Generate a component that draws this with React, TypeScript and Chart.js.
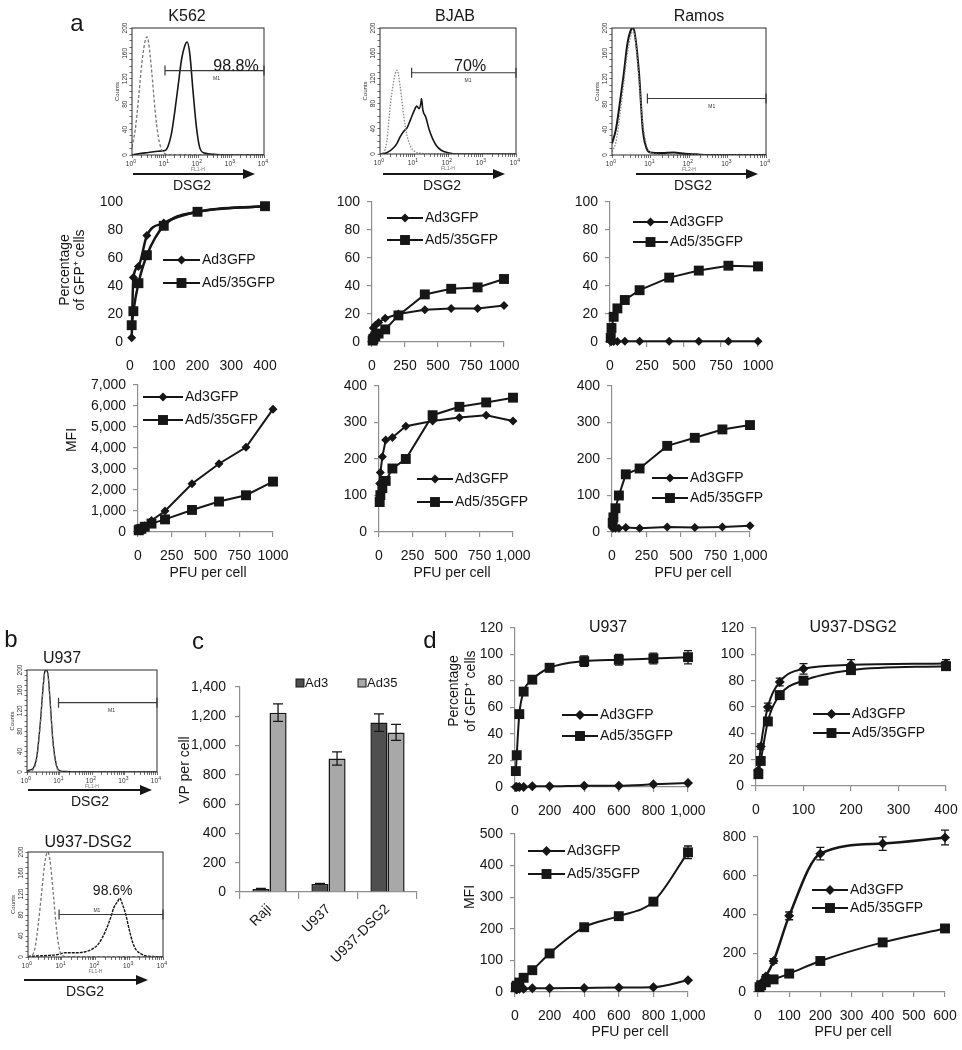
import React, { useEffect, useRef } from "react";
import { Chart, registerables } from "chart.js";

Chart.register(...registerables);

const W = 962;
const H = 1050;
const FONT = '"Liberation Sans", Arial, Helvetica, sans-serif';
const INK = "#161616";
const AXIS = "#8f8f8f";

Chart.defaults.font.family = FONT;
Chart.defaults.font.size = 14;
Chart.defaults.color = INK;

// ---------------- data ----------------
// Flow cytometry histograms: x = log10 fluorescence (decades), y = counts
const k562CtrlX = [0, 0.1, 0.2, 0.3, 0.4, 0.45, 0.5, 0.6, 0.7, 0.8, 0.9, 1.0, 1.2, 2, 3, 4];
const k562CtrlY = [12, 40, 90, 145, 180, 186, 178, 130, 70, 28, 8, 2, 0, 0, 0, 0];
const k562DsgX = [0, 0.2, 0.5, 0.8, 1.0, 1.1, 1.2, 1.3, 1.4, 1.5, 1.6, 1.67, 1.75, 1.85, 1.95, 2.05, 2.2, 2.5, 3, 4];
const k562DsgY = [0, 2, 4, 6, 7, 15, 35, 70, 110, 150, 172, 178, 160, 100, 45, 12, 3, 1, 0, 0];

const bjabCtrlX = [0, 0.1, 0.2, 0.3, 0.4, 0.5, 0.6, 0.7, 0.8, 0.9, 1.0, 1.2, 1.5, 4];
const bjabCtrlY = [0, 2, 20, 75, 115, 133, 105, 60, 28, 12, 5, 1, 0, 0];
const bjabDsgX = [0, 0.2, 0.4, 0.5, 0.6, 0.7, 0.8, 0.9, 1.0, 1.08, 1.15, 1.2, 1.22, 1.26, 1.35, 1.45, 1.55, 1.65, 1.8, 2.0, 2.3, 4];
const bjabDsgY = [0, 2, 10, 17, 28, 36, 42, 55, 68, 76, 72, 80, 88, 70, 58, 38, 24, 14, 6, 2, 0, 0];

const ramosCtrlX = [0, 0.1, 0.2, 0.3, 0.4, 0.5, 0.55, 0.6, 0.7, 0.8, 0.9, 1.0, 1.2, 1.5, 4];
const ramosCtrlY = [5, 20, 60, 110, 160, 190, 195, 185, 120, 50, 15, 4, 1, 0, 0];
const ramosDsgX = [0, 0.1, 0.2, 0.3, 0.4, 0.5, 0.55, 0.6, 0.7, 0.8, 0.9, 1.0, 1.3, 1.6, 1.9, 2.2, 2.5, 4];
const ramosDsgY = [18, 40, 80, 125, 175, 198, 200, 188, 130, 40, 10, 4, 3, 4, 2, 1, 0, 0];

const u937CtrlX = [0, 0.1, 0.2, 0.3, 0.4, 0.5, 0.55, 0.6, 0.65, 0.7, 0.8, 0.9, 1.0, 1.2, 4];
const u937CtrlY = [0, 2, 6, 25, 85, 165, 195, 198, 188, 145, 55, 12, 2, 0, 0];
const u937DsgX = [0, 0.1, 0.2, 0.3, 0.4, 0.5, 0.55, 0.6, 0.65, 0.7, 0.8, 0.9, 1.0, 1.2, 1.5, 4];
const u937DsgY = [2, 4, 8, 30, 90, 170, 198, 200, 190, 150, 60, 15, 3, 1, 0, 0];

const u937d2CtrlX = [0, 0.1, 0.2, 0.3, 0.4, 0.5, 0.58, 0.65, 0.75, 0.85, 0.95, 1.05, 1.2, 4];
const u937d2CtrlY = [0, 2, 15, 60, 120, 180, 200, 185, 120, 50, 10, 2, 0, 0];
const u937d2DsgX = [0, 0.3, 0.6, 0.9, 1.1, 1.4, 1.7, 1.9, 2.1, 2.3, 2.45, 2.55, 2.65, 2.72, 2.8, 2.9, 3.0, 3.1, 3.2, 3.35, 3.5, 3.7, 4];
const u937d2DsgY = [1, 2, 3, 5, 8, 8, 10, 15, 26, 50, 75, 95, 105, 112, 100, 80, 52, 28, 14, 6, 2, 1, 0];

// Panel a: infection curves
const seriesNames = ["Ad3GFP", "Ad5/35GFP"];
const moiK562Pct = [5, 10, 25, 50, 100, 200, 400];
const k562PctAd3 = [3, 46, 54, 76, 85, 93, 97];
const k562PctAd535 = [12, 22, 42, 62, 83, 93, 97];

const moi = [5, 10, 25, 50, 100, 200, 400, 600, 800, 1000];
const bjabPctAd3 = [5, 10, 12, 14, 17, 20, 23, 24, 24, 26];
const bjabPctAd535 = [1, 2, 4, 6, 9, 19, 34, 38, 39, 45];
const ramosPctAd3 = [0.3, 0.3, 0.3, 0.3, 0.5, 0.5, 0.5, 0.5, 0.5, 0.5];
const ramosPctAd535 = [3, 10, 18, 24, 30, 37, 46, 51, 54.5, 54];
const k562MfiAd3 = [100, 130, 180, 300, 550, 1000, 2300, 3250, 4030, 5850];
const k562MfiAd535 = [80, 120, 150, 250, 400, 600, 1050, 1450, 1750, 2400];
const bjabMfiAd3 = [133, 163, 206, 252, 259, 290, 304, 314, 320, 304];
const bjabMfiAd535 = [82, 101, 120, 140, 174, 200, 320, 343, 355, 368];
const ramosMfiAd3 = [10, 12, 10, 10, 12, 10, 14, 12, 14, 17];
const ramosMfiAd535 = [25, 40, 65, 100, 158, 174, 236, 258, 281, 293];

// Panel c: bound virus particles
const barNames = ["Ad3", "Ad35"];
const vpCategories = ["Raji", "U937", "U937-DSG2"];
const vpAd3 = [20, 54, 1157];
const vpAd3Err = [4, 4, 60];
const vpAd35 = [1225, 912, 1090];
const vpAd35Err = [60, 45, 55];

// Panel d
const u937PctAd3 = [0, 0, 0, 0, 0.5, 0.5, 1, 1, 2, 3];
const u937PctAd535 = [12, 24, 55, 72, 81, 90, 95, 96, 97, 98];
const u937PctAd535Err = [1, 1, 2, 2, 2, 3, 4, 4, 4, 5];
const moiDsgPct = [5, 10, 25, 50, 100, 200, 400];
const dsgPctAd3 = [12, 30, 60, 79, 89, 92, 93];
const dsgPctAd3Err = [1, 2, 3, 3, 4, 4, 3];
const dsgPctAd535 = [9, 19, 49, 69, 80, 88, 91];
const dsgPctAd535Err = [1, 2, 3, 3, 3, 3, 3];
const u937MfiAd3 = [10, 8, 10, 10, 12, 12, 13, 14, 15, 37];
const u937MfiAd535 = [15, 20, 30, 45, 69, 122, 205, 240, 286, 442];
const u937MfiAd535Err = [2, 2, 3, 3, 4, 5, 6, 6, 8, 20];
const moiDsgMfi = [5, 10, 25, 50, 100, 200, 400, 600];
const dsgMfiAd3 = [30, 45, 80, 160, 393, 714, 766, 797];
const dsgMfiAd3Err = [5, 5, 10, 12, 20, 32, 35, 38];
const dsgMfiAd535 = [25, 35, 50, 65, 95, 160, 256, 328];
const dsgMfiAd535Err = [3, 3, 4, 5, 6, 8, 8, 10];

// tick values
const pctTicks = [0, 20, 40, 60, 80, 100];
const pctTicks120 = [0, 20, 40, 60, 80, 100, 120];
const moiTicks400 = [0, 100, 200, 300, 400];
const moiTicks1000 = [0, 250, 500, 750, 1000];
const moiTicks1000b = [0, 200, 400, 600, 800, 1000];
const moiTicks600 = [0, 100, 200, 300, 400, 500, 600];
const mfiTicks7000 = [0, 1000, 2000, 3000, 4000, 5000, 6000, 7000];
const mfiTicks400 = [0, 100, 200, 300, 400];
const mfiTicks500 = [0, 100, 200, 300, 400, 500];
const mfiTicks800 = [0, 200, 400, 600, 800];
const vpTicks = [0, 200, 400, 600, 800, 1000, 1200, 1400];
const histYLabels = [0, 40, 80, 120, 160, 200];
const histDecades = [0, 1, 2, 3, 4];

const histXTicks: number[] = [];
for (let d = 0; d < 4; d++) for (let k = 1; k < 10; k++) histXTicks.push(d + Math.log10(k));
histXTicks.push(4);
const histYTicks: number[] = [];
for (let v = 0; v <= 200; v += 10) histYTicks.push(v);

const plain = (v: any) => String(v);
const comma = (v: any) => Number(v).toLocaleString("en-US");

// ---------------- helpers ----------------
function axisFit(size: number, horizontal: boolean) {
  return (s: any) => {
    if (horizontal) s.height = size;
    else s.width = size;
    s.paddingLeft = 0;
    s.paddingRight = 0;
    s.paddingTop = 0;
    s.paddingBottom = 0;
  };
}

function baseLayout(area: number[], yw: number, xh: number) {
  const [x0, y0, x1, y1] = area;
  return {
    autoPadding: false,
    padding: { left: x0 - yw, top: y0, right: W - x1, bottom: H - y1 - xh },
  };
}

function drawMarker(ctx: CanvasRenderingContext2D, shape: string, x: number, y: number, r: number) {
  ctx.beginPath();
  if (shape === "d") {
    ctx.moveTo(x, y - r);
    ctx.lineTo(x + r, y);
    ctx.lineTo(x, y + r);
    ctx.lineTo(x - r, y);
    ctx.closePath();
  } else {
    const h = r * Math.SQRT1_2;
    ctx.rect(x - h, y - h, 2 * h, 2 * h);
  }
  ctx.fill();
}

const errorBars = {
  id: "errorBars",
  afterDatasetsDraw(chart: any) {
    const ctx = chart.ctx;
    const ys = chart.scales.y;
    chart.data.datasets.forEach((ds: any, i: number) => {
      const errs = ds.errors;
      if (!errs) return;
      const meta = chart.getDatasetMeta(i);
      ctx.save();
      ctx.strokeStyle = INK;
      ctx.lineWidth = 1.3;
      meta.data.forEach((el: any, j: number) => {
        const e = errs[j];
        if (!e) return;
        const raw = ds.data[j];
        const v = typeof raw === "number" ? raw : raw.y;
        const yt = ys.getPixelForValue(v + e);
        const yb = ys.getPixelForValue(v - e);
        const cap = ds.capWidth || 4;
        ctx.beginPath();
        ctx.moveTo(el.x, yt);
        ctx.lineTo(el.x, yb);
        ctx.moveTo(el.x - cap, yt);
        ctx.lineTo(el.x + cap, yt);
        ctx.moveTo(el.x - cap, yb);
        ctx.lineTo(el.x + cap, yb);
        ctx.stroke();
      });
      ctx.restore();
    });
  },
};

function keyPlugin(k: any) {
  return {
    id: "seriesKey",
    afterDraw(chart: any) {
      const ctx = chart.ctx;
      ctx.save();
      k.items.forEach((it: any, i: number) => {
        const y = k.ys[i];
        ctx.strokeStyle = INK;
        ctx.lineWidth = 2;
        ctx.beginPath();
        ctx.moveTo(k.x0, y);
        ctx.lineTo(k.x1, y);
        ctx.stroke();
        ctx.fillStyle = INK;
        drawMarker(ctx, it.shape, (k.x0 + k.x1) / 2, y, it.r);
        ctx.font = `14px ${FONT}`;
        ctx.textAlign = "left";
        ctx.textBaseline = "middle";
        ctx.fillText(it.label, k.x1 + 2, y + 0.5);
      });
      ctx.restore();
    },
  };
}

function series(xs: number[], ys: number[], shape: string, o: any = {}) {
  return {
    data: xs.map((x, i) => ({ x, y: ys[i] })),
    borderColor: INK,
    backgroundColor: INK,
    pointBackgroundColor: INK,
    pointBorderColor: INK,
    pointBorderWidth: 0,
    borderWidth: o.lw || 2,
    pointStyle: shape === "d" ? "rectRot" : "rect",
    pointRadius: shape === "d" ? o.r || 4.5 : o.r || 7,
    tension: o.smooth ? 0.4 : 0,
    cubicInterpolationMode: o.smooth ? "monotone" : "default",
    clip: false,
    errors: o.err,
    capWidth: 4,
  };
}

function lineConfig(p: any) {
  const yw = Math.min(60, p.area[0]);
  const xh = 40;
  const axes = p.axes !== false;
  const rD = p.rD || 4.5;
  const rS = p.rS || 7;
  return {
    type: "line",
    data: { datasets: p.series },
    options: {
      responsive: false,
      animation: false,
      devicePixelRatio: 1,
      layout: baseLayout(p.area, yw, xh),
      plugins: { legend: { display: false }, tooltip: { enabled: false } },
      scales: {
        x: {
          type: "linear",
          min: 0,
          max: p.xTicks[p.xTicks.length - 1],
          afterBuildTicks: (s: any) => {
            s.ticks = p.xTicks.map((v: number) => ({ value: v }));
          },
          afterFit: axisFit(xh, true),
          border: { display: axes, color: AXIS, width: 1.2 },
          grid: { display: true, drawOnChartArea: false, drawTicks: axes, tickLength: 5, color: AXIS, lineWidth: 1.2 },
          ticks: { callback: p.xFmt || plain, padding: axes ? 11 : 16, maxRotation: 0, minRotation: 0, autoSkip: false, font: { size: 14 }, color: INK },
        },
        y: {
          type: "linear",
          min: 0,
          max: p.yTicks[p.yTicks.length - 1],
          afterBuildTicks: (s: any) => {
            s.ticks = p.yTicks.map((v: number) => ({ value: v }));
          },
          afterFit: axisFit(yw, false),
          border: { display: axes, color: AXIS, width: 1.2 },
          grid: { display: true, drawOnChartArea: false, drawTicks: axes, tickLength: 5, color: AXIS, lineWidth: 1.2 },
          ticks: { callback: p.yFmt || comma, padding: 7, autoSkip: false, font: { size: 14 }, color: INK },
        },
      },
    },
    plugins: [
      errorBars,
      keyPlugin({
        x0: p.key[0],
        x1: p.key[1],
        ys: [p.key[2], p.key[3]],
        items: [
          { label: seriesNames[0], shape: "d", r: rD },
          { label: seriesNames[1], shape: "s", r: rS },
        ],
      }),
    ],
  };
}

function histDeco(h: any) {
  return {
    id: "histDeco",
    afterDraw(chart: any) {
      const { ctx, chartArea: a } = chart;
      const x = chart.scales.x;
      const y = chart.scales.y;
      ctx.save();
      ctx.strokeStyle = "#2a2a2a";
      ctx.lineWidth = 1;
      ctx.strokeRect(a.left, a.top, a.right - a.left, a.bottom - a.top);
      ctx.fillStyle = "#333";
      histDecades.forEach((d) => {
        const px = x.getPixelForValue(d);
        ctx.font = `6.5px ${FONT}`;
        ctx.textAlign = "right";
        ctx.textBaseline = "alphabetic";
        ctx.fillText("10", px + 1, a.bottom + 11);
        ctx.font = `5px ${FONT}`;
        ctx.textAlign = "left";
        ctx.fillText(String(d), px + 1.3, a.bottom + 8);
      });
      ctx.font = `6.5px ${FONT}`;
      histYLabels.forEach((v) => {
        const py = y.getPixelForValue(v);
        ctx.save();
        ctx.translate(a.left - 4, py);
        ctx.rotate(-Math.PI / 2);
        ctx.textAlign = "center";
        ctx.textBaseline = "bottom";
        ctx.fillText(String(v), 0, 0);
        ctx.restore();
      });
      ctx.save();
      ctx.translate(a.left - 12, (a.top + a.bottom) / 2);
      ctx.rotate(-Math.PI / 2);
      ctx.textAlign = "center";
      ctx.textBaseline = "bottom";
      ctx.font = `6px ${FONT}`;
      ctx.fillText("Counts", 0, 0);
      ctx.restore();
      // axis channel name (mostly hidden by the arrow)
      ctx.fillStyle = "#777";
      ctx.font = `5px ${FONT}`;
      ctx.textAlign = "center";
      ctx.fillText(h.channel, (a.left + a.right) / 2, a.bottom + 16);
      // gate
      const gx0 = x.getPixelForValue(h.gateFrom);
      const gy = y.getPixelForValue(h.gateY);
      ctx.strokeStyle = "#3a3a3a";
      ctx.lineWidth = 1.2;
      ctx.beginPath();
      ctx.moveTo(gx0, gy);
      ctx.lineTo(a.right, gy);
      ctx.moveTo(gx0, gy - 5);
      ctx.lineTo(gx0, gy + 5);
      ctx.moveTo(a.right, gy - 5);
      ctx.lineTo(a.right, gy + 5);
      ctx.stroke();
      ctx.fillStyle = "#333";
      ctx.font = `5px ${FONT}`;
      ctx.textAlign = "center";
      ctx.textBaseline = "middle";
      ctx.fillText("M1", x.getPixelForValue(h.m1At), gy + (h.m1Above ? -4 : 8));
      if (h.pct) {
        ctx.fillStyle = INK;
        ctx.font = `${h.pctSize}px ${FONT}`;
        ctx.fillText(h.pct, x.getPixelForValue(h.pctAt[0]), y.getPixelForValue(h.pctAt[1]));
      }
      ctx.restore();
    },
  };
}

function histConfig(h: any) {
  const yw = Math.min(30, h.area[0]);
  const xh = 20;
  return {
    type: "line",
    data: {
      datasets: h.curves.map((c: any) => ({
        data: c.x.map((x: number, i: number) => ({ x, y: c.y[i] })),
        borderColor: c.color,
        borderWidth: c.lw,
        borderDash: c.dash || [],
        pointRadius: 0,
        tension: 0.3,
        cubicInterpolationMode: "monotone",
        fill: false,
      })),
    },
    options: {
      responsive: false,
      animation: false,
      devicePixelRatio: 1,
      layout: baseLayout(h.area, yw, xh),
      plugins: { legend: { display: false }, tooltip: { enabled: false } },
      scales: {
        x: {
          type: "linear",
          min: 0,
          max: 4,
          afterBuildTicks: (s: any) => {
            s.ticks = histXTicks.map((v) => ({ value: v }));
          },
          afterFit: axisFit(xh, true),
          ticks: { display: false },
          border: { display: false },
          grid: { display: true, drawOnChartArea: false, tickLength: 3, color: "#333", lineWidth: 0.7 },
        },
        y: {
          type: "linear",
          min: 0,
          max: 200,
          afterBuildTicks: (s: any) => {
            s.ticks = histYTicks.map((v) => ({ value: v }));
          },
          afterFit: axisFit(yw, false),
          ticks: { display: false },
          border: { display: false },
          grid: { display: true, drawOnChartArea: false, tickLength: 2.5, color: "#333", lineWidth: 0.7 },
        },
      },
    },
    plugins: [histDeco(h)],
  };
}

const GREY_DASH = { color: "#777", lw: 1.3, dash: [3, 2] };
const GREY_DOT = { color: "#888", lw: 1.3, dash: [1.5, 1.5] };
const BLACK = { color: INK, lw: 1.6 };

function barConfig() {
  const area = [240, 687, 417, 892];
  const yw = 60;
  const xh = 110;
  return {
    type: "bar",
    data: {
      labels: vpCategories,
      datasets: [
        { label: barNames[0], data: vpAd3, errors: vpAd3Err, capWidth: 5, backgroundColor: "#4f4f4f", borderColor: INK, borderWidth: 1.5, categoryPercentage: 0.58, barPercentage: 1 },
        { label: barNames[1], data: vpAd35, errors: vpAd35Err, capWidth: 5, backgroundColor: "#a8a8a8", borderColor: INK, borderWidth: 1.5, categoryPercentage: 0.58, barPercentage: 1 },
      ],
    },
    options: {
      responsive: false,
      animation: false,
      devicePixelRatio: 1,
      layout: baseLayout(area, yw, xh),
      plugins: { legend: { display: false }, tooltip: { enabled: false } },
      scales: {
        x: {
          type: "category",
          offset: true,
          afterFit: axisFit(xh, true),
          border: { color: AXIS, width: 1.2 },
          grid: { offset: true, drawOnChartArea: false, tickLength: 7, color: AXIS, lineWidth: 1.2 },
          ticks: { minRotation: 45, maxRotation: 45, autoSkip: false, padding: 2, font: { size: 14 }, color: INK },
        },
        y: {
          type: "linear",
          min: 0,
          max: 1400,
          afterBuildTicks: (s: any) => {
            s.ticks = vpTicks.map((v) => ({ value: v }));
          },
          afterFit: axisFit(yw, false),
          border: { color: AXIS, width: 1.2 },
          grid: { drawOnChartArea: false, tickLength: 5, color: AXIS, lineWidth: 1.2 },
          ticks: { callback: comma, padding: 9, font: { size: 14 }, color: INK },
        },
      },
    },
    plugins: [
      errorBars,
      {
        id: "barKey",
        afterDraw(chart: any) {
          const ctx = chart.ctx;
          const items = [
            { label: barNames[0], color: "#4f4f4f", x: 300 },
            { label: barNames[1], color: "#a8a8a8", x: 362 },
          ];
          ctx.save();
          items.forEach((it) => {
            ctx.fillStyle = it.color;
            ctx.strokeStyle = INK;
            ctx.lineWidth = 1;
            ctx.fillRect(it.x - 4, 679, 8, 8);
            ctx.strokeRect(it.x - 4, 679, 8, 8);
            ctx.fillStyle = INK;
            ctx.font = `13px ${FONT}`;
            ctx.textAlign = "left";
            ctx.textBaseline = "middle";
            ctx.fillText(it.label, it.x + 5, 683.5);
          });
          ctx.restore();
        },
      },
    ],
  };
}

const chartMakers: Array<() => any> = [
  // panel a histograms
  () =>
    histConfig({
      area: [132, 28, 264, 155],
      curves: [{ x: k562CtrlX, y: k562CtrlY, ...GREY_DASH }, { x: k562DsgX, y: k562DsgY, ...BLACK }],
      gateFrom: 1.0, gateY: 133, m1At: 2.56, pct: "98.8%", pctSize: 16, pctAt: [3.15, 139], channel: "FL1-H",
    }),
  () =>
    histConfig({
      area: [380, 28, 516, 154],
      curves: [{ x: bjabCtrlX, y: bjabCtrlY, ...GREY_DOT }, { x: bjabDsgX, y: bjabDsgY, ...BLACK }],
      gateFrom: 0.93, gateY: 129, m1At: 2.59, pct: "70%", pctSize: 16, pctAt: [2.65, 138], channel: "FL1-H",
    }),
  () =>
    histConfig({
      area: [612, 28, 766, 155],
      curves: [{ x: ramosCtrlX, y: ramosCtrlY, ...GREY_DOT }, { x: ramosDsgX, y: ramosDsgY, color: INK, lw: 2 }],
      gateFrom: 0.92, gateY: 89, m1At: 2.59, channel: "FL2-H",
    }),
  // panel a: percentage
  () =>
    lineConfig({
      area: [130, 202, 265, 342], xTicks: moiTicks400, yTicks: pctTicks, axes: false,
      series: [series(moiK562Pct, k562PctAd3, "d", { smooth: true, lw: 2.5 }), series(moiK562Pct, k562PctAd535, "s", { smooth: true, lw: 2.5 })],
      key: [163, 200, 260, 283],
    }),
  () =>
    lineConfig({
      area: [372, 202, 504, 342], xTicks: moiTicks1000, yTicks: pctTicks,
      series: [series(moi, bjabPctAd3, "d"), series(moi, bjabPctAd535, "s")],
      key: [387, 423, 218, 240],
    }),
  () =>
    lineConfig({
      area: [610, 202, 758, 342], xTicks: moiTicks1000, yTicks: pctTicks,
      series: [series(moi, ramosPctAd3, "d"), series(moi, ramosPctAd535, "s")],
      key: [633, 668, 222, 242],
    }),
  // panel a: MFI
  () =>
    lineConfig({
      area: [138, 385, 273, 532], xTicks: moiTicks1000, yTicks: mfiTicks7000,
      series: [series(moi, k562MfiAd3, "d"), series(moi, k562MfiAd535, "s")],
      key: [143, 183, 397, 420],
    }),
  () =>
    lineConfig({
      area: [379, 386, 513, 532], xTicks: moiTicks1000, xFmt: comma, yTicks: mfiTicks400,
      series: [series(moi, bjabMfiAd3, "d"), series(moi, bjabMfiAd535, "s")],
      key: [417, 453, 479, 502],
    }),
  () =>
    lineConfig({
      area: [612, 386, 750, 532], xTicks: moiTicks1000, xFmt: comma, yTicks: mfiTicks400,
      series: [series(moi, ramosMfiAd3, "d"), series(moi, ramosMfiAd535, "s")],
      key: [652, 688, 478, 498],
    }),
  // panel b histograms
  () =>
    histConfig({
      area: [27, 670, 157, 772],
      curves: [{ x: u937CtrlX, y: u937CtrlY, ...GREY_DASH }, { x: u937DsgX, y: u937DsgY, color: INK, lw: 1.3 }],
      gateFrom: 0.97, gateY: 136, m1At: 2.6, channel: "FL1-H",
    }),
  () =>
    histConfig({
      area: [28, 852, 163, 957],
      curves: [{ x: u937d2CtrlX, y: u937d2CtrlY, ...GREY_DASH }, { x: u937d2DsgX, y: u937d2DsgY, color: INK, lw: 1.4, dash: [3, 1] }],
      gateFrom: 0.92, gateY: 81, m1At: 2.04, m1Above: true, pct: "98.6%", pctSize: 14, pctAt: [2.51, 126], channel: "FL1-H",
    }),
  // panel c
  barConfig,
  // panel d
  () =>
    lineConfig({
      area: [515, 628, 688, 787], xTicks: moiTicks1000b, xFmt: comma, yTicks: pctTicks120, rD: 5,
      series: [series(moi, u937PctAd3, "d", { smooth: true, r: 5 }), series(moi, u937PctAd535, "s", { smooth: true, err: u937PctAd535Err })],
      key: [562, 598, 715, 736],
    }),
  () =>
    lineConfig({
      area: [756, 628, 946, 786], xTicks: moiTicks400, yTicks: pctTicks120, rD: 5,
      series: [series(moiDsgPct, dsgPctAd3, "d", { smooth: true, r: 5, err: dsgPctAd3Err }), series(moiDsgPct, dsgPctAd535, "s", { smooth: true, err: dsgPctAd535Err })],
      key: [813, 850, 714, 733],
    }),
  () =>
    lineConfig({
      area: [515, 834, 688, 992], xTicks: moiTicks1000b, xFmt: comma, yTicks: mfiTicks500, rD: 5,
      series: [series(moi, u937MfiAd3, "d", { smooth: true, r: 5 }), series(moi, u937MfiAd535, "s", { smooth: true, err: u937MfiAd535Err })],
      key: [528, 565, 851, 874],
    }),
  () =>
    lineConfig({
      area: [758, 837, 945, 992], xTicks: moiTicks600, yTicks: mfiTicks800, rD: 5,
      series: [series(moiDsgMfi, dsgMfiAd3, "d", { smooth: true, r: 5, lw: 2.5, err: dsgMfiAd3Err }), series(moiDsgMfi, dsgMfiAd535, "s", { smooth: true, err: dsgMfiAd535Err })],
      key: [812, 848, 890, 908],
    }),
];

function ChartCanvas({ make }: { make: () => any }) {
  const ref = useRef<HTMLCanvasElement>(null);
  useEffect(() => {
    const chart = new Chart(ref.current as HTMLCanvasElement, make());
    return () => chart.destroy();
  }, [make]);
  return (
    <canvas
      ref={ref}
      width={W}
      height={H}
      style={{ position: "absolute", left: 0, top: 0, width: W, height: H }}
    />
  );
}

function Txt({ x, y, s = 14, r = 0, lh, children }: any) {
  return (
    <div
      style={{
        position: "absolute",
        left: x,
        top: y,
        fontSize: s,
        fontFamily: FONT,
        color: INK,
        whiteSpace: "pre",
        textAlign: "center",
        lineHeight: lh ? `${lh}px` : 1.1,
        transform: `translate(-50%, -50%) rotate(${r}deg)`,
      }}
    >
      {children}
    </div>
  );
}

const arrows = [
  [133, 255, 174],
  [383, 505, 174],
  [636, 758, 174],
  [28, 152, 790],
  [24, 148, 980],
];

export default function App() {
  return (
    <div style={{ position: "absolute", left: 0, top: 0, width: W, height: H, background: "#fff", overflow: "hidden" }}>
      {chartMakers.map((m, i) => (
        <ChartCanvas key={i} make={m} />
      ))}
      <svg width={W} height={H} style={{ position: "absolute", left: 0, top: 0 }}>
        {arrows.map(([a, b, y], i) => (
          <g key={i}>
            <line x1={a} y1={y} x2={b - 8} y2={y} stroke={INK} strokeWidth={2} />
            <polygon points={`${b},${y} ${b - 12},${y - 5} ${b - 12},${y + 5}`} fill={INK} />
          </g>
        ))}
      </svg>
      {/* panel letters */}
      <Txt x={77} y={23} s={24}>a</Txt>
      <Txt x={11} y={639} s={24}>b</Txt>
      <Txt x={198} y={641} s={24}>c</Txt>
      <Txt x={430} y={640} s={24}>d</Txt>
      {/* histogram titles */}
      <Txt x={187} y={16} s={16}>K562</Txt>
      <Txt x={455} y={16} s={16}>BJAB</Txt>
      <Txt x={699} y={16} s={16}>Ramos</Txt>
      <Txt x={62} y={658} s={16}>U937</Txt>
      <Txt x={88} y={842} s={16}>U937-DSG2</Txt>
      {/* DSG2 labels */}
      <Txt x={192} y={186} s={14}>DSG2</Txt>
      <Txt x={442} y={186} s={14}>DSG2</Txt>
      <Txt x={693} y={186} s={14}>DSG2</Txt>
      <Txt x={90} y={802} s={14}>DSG2</Txt>
      <Txt x={85} y={992} s={14}>DSG2</Txt>
      {/* axis titles */}
      <Txt x={72} y={270} s={14} r={-90} lh={15}>{"Percentage\nof GFP\u207A cells"}</Txt>
      <Txt x={72} y={440} s={14} r={-90}>MFI</Txt>
      <Txt x={208} y={573} s={14}>PFU per cell</Txt>
      <Txt x={452} y={573} s={14}>PFU per cell</Txt>
      <Txt x={693} y={573} s={14}>PFU per cell</Txt>
      <Txt x={185} y={770} s={14} r={-90}>VP per cell</Txt>
      <Txt x={462} y={691} s={14} r={-90} lh={17}>{"Percentage\nof GFP\u207A cells"}</Txt>
      <Txt x={470} y={897} s={14} r={-90}>MFI</Txt>
      <Txt x={630} y={1032} s={14}>PFU per cell</Txt>
      <Txt x={853} y={1032} s={14}>PFU per cell</Txt>
      {/* panel d titles */}
      <Txt x={608} y={627} s={16}>U937</Txt>
      <Txt x={853} y={627} s={16}>U937-DSG2</Txt>
    </div>
  );
}
